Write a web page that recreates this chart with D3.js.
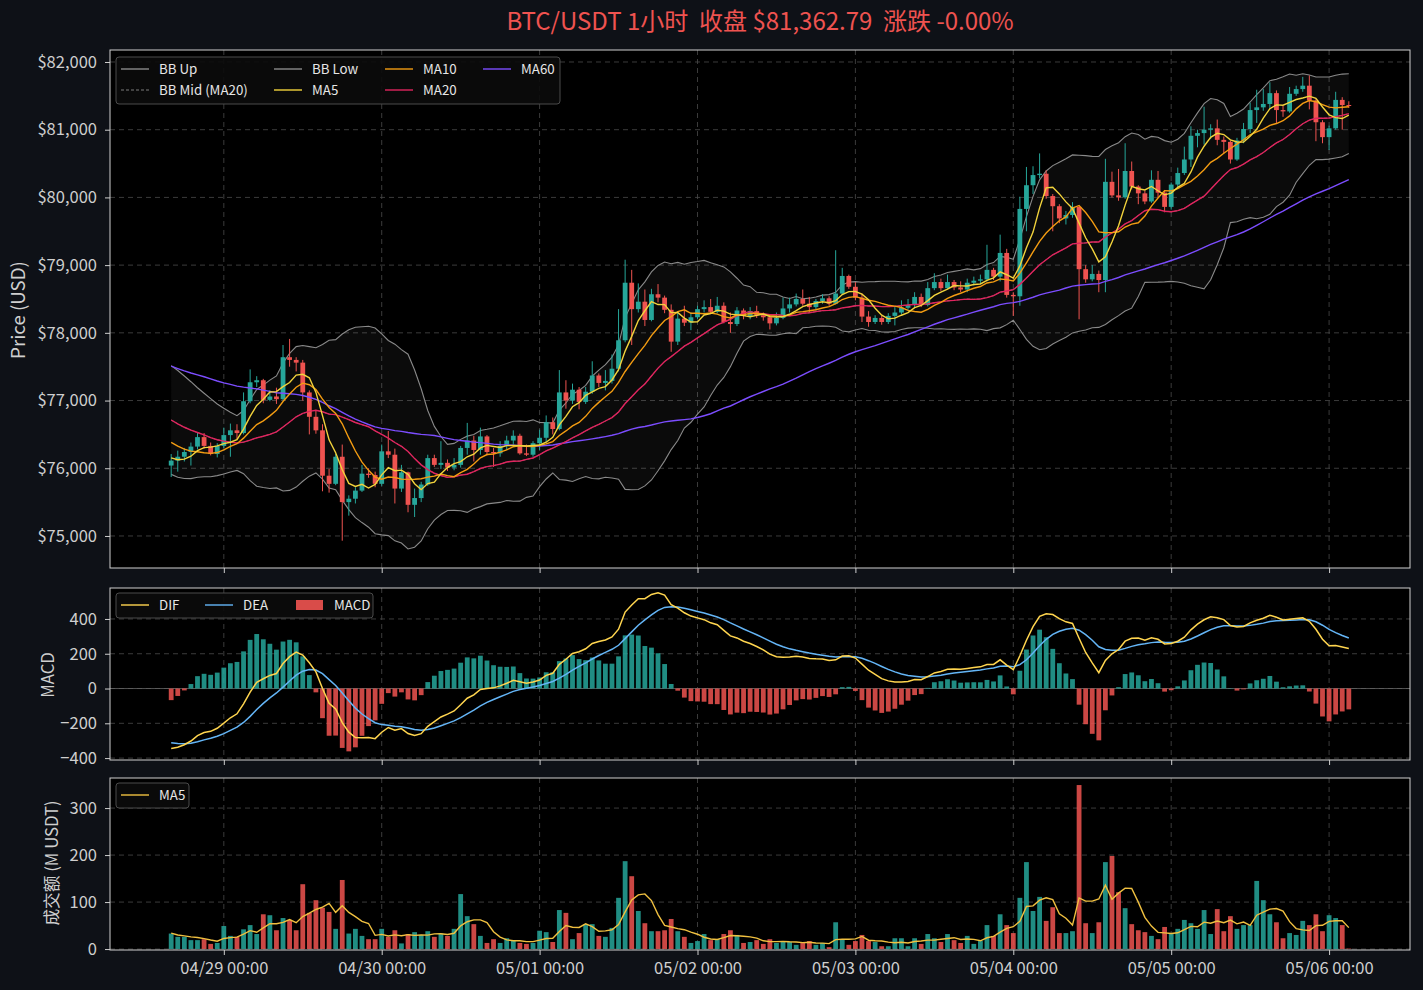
<!DOCTYPE html>
<html>
<head>
<meta charset="utf-8">
<script src="https://cdn.jsdelivr.net/npm/d3@7"></script>
<style>
  body { margin: 0; background: #0e1117; }
  text { font-family: "Noto Sans CJK SC", "Noto Sans", sans-serif; }
</style>
</head>
<body>
<svg id="chart" width="1423" height="990"></svg>
<script>
// ---- data (hourly candles, first one 04/28 16:00 UTC) ----
const startTime = Date.UTC(2025, 3, 28, 16);
const titleText = "BTC/USDT 1小时  收盘 $81,362.79  涨跌 -0.00%";

const openP = [
  76040,76113,76170,76240,76320,76460,76330,76210,76330,76490,
  76560,76520,76990,77270,77300,77010,77060,77020,77640,77600,
  77560,77120,76760,76560,75890,75770,76170,75500,75550,75670,
  75920,75900,75770,76250,76200,75700,75940,75460,75560,75760,
  76150,76050,76080,76010,76050,76300,76410,76270,76470,76240,
  76220,76330,76410,76480,76220,76200,76370,76450,76680,76580,
  77120,77000,77160,76980,77130,77370,77260,77290,77470,77890,
  78740,78350,78460,78190,78570,78520,78340,77870,78210,78150,
  78230,78350,78380,78310,78400,78160,78130,78330,78250,78320,
  78260,78230,78140,78220,78360,78420,78500,78430,78380,78470,
  78510,78430,78580,78840,78680,78520,78240,78160,78220,78160,
  78250,78300,78370,78410,78530,78410,78660,78750,78660,78750,
  78670,78640,78740,78770,78790,78930,78830,79180,78560,78540,
  79830,80180,80330,80350,80020,79870,79690,79740,79860,78940,
  78790,78870,78780,80230,80030,80000,80390,80160,80060,79940,
  80260,80070,79860,80190,80360,80560,80910,80950,81000,81020,
  80850,80820,80560,80840,81010,81290,81330,81380,81540,81290,
  81270,81530,81600,81650,81430,81110,80890,81020,81440,81364.5
];
const highP = [
  76210,76260,76300,76380,76530,76520,76380,76370,76600,76660,
  76650,77120,77460,77360,77320,77150,77190,77820,77910,77640,
  77600,77150,76850,76650,75990,76210,76350,75600,75720,76050,
  76000,75950,76350,76550,76290,76050,75950,75700,75800,76200,
  76200,76400,76130,76150,76330,76670,76480,76600,76490,76300,
  76400,76480,76560,76510,76350,76400,76570,76780,76750,77450,
  77300,77250,77200,77200,77580,77400,77450,77680,78350,79080,
  78930,78730,78640,78650,78720,78550,78420,78300,78400,78300,
  78400,78480,78500,78530,78450,78300,78380,78360,78380,78400,
  78300,78260,78300,78520,78520,78580,78640,78530,78500,78570,
  78540,79220,78960,78860,78750,78580,78320,78260,78250,78290,
  78380,78480,78500,78600,78580,78750,78880,78800,78860,78780,
  78760,78800,78830,78860,79300,78960,79450,79240,78600,80010,
  80450,80460,80650,80400,80050,79900,79800,79930,79870,79000,
  79000,78920,80570,80380,80420,80800,80530,80180,80100,80400,
  80390,80110,80220,80440,80750,81050,81000,81340,81080,81150,
  80900,80840,80880,81100,81400,81590,81600,81700,81580,81350,
  81630,81650,81780,81800,81450,81140,81060,81560,81480,81420
];
const lowP = [
  75870,75950,76100,76040,76280,76290,76190,76160,76300,76170,
  76430,76500,76960,77200,76960,76990,76950,77000,77500,77430,
  77000,76500,76510,75660,75640,75750,74930,75300,75480,75650,
  75860,75720,75740,76150,75480,75650,75350,75280,75500,75740,
  76020,75990,75960,75970,76010,76200,76100,76200,76190,76020,
  76170,76270,76350,76200,76180,76170,76270,76380,76500,76560,
  76880,76950,76870,76950,77100,77200,77150,77250,77430,77860,
  77820,78300,78100,78170,78450,78290,77720,77820,78100,78040,
  78200,78300,78290,78290,78140,78000,78100,78200,78200,78220,
  78180,78050,78110,78200,78300,78390,78400,78300,78330,78430,
  78400,78420,78560,78650,78480,78160,78090,78130,78120,78130,
  78110,78270,78340,78380,78380,78390,78630,78620,78640,78630,
  78600,78600,78700,78720,78760,78780,78760,78520,78250,78400,
  79500,80050,80280,79980,79500,79620,79600,79700,78200,78740,
  78760,78600,78600,80000,79950,79980,80120,79900,79900,79920,
  80000,79780,79820,80150,80330,80450,80740,80780,80860,80770,
  80650,80500,80540,80800,80950,81100,81280,81300,81100,81190,
  81250,81500,81560,81300,80830,80800,80700,81000,81000,81320
];
const closeP = [
  76113,76170,76240,76320,76460,76330,76210,76330,76490,76560,
  76520,76990,77270,77300,77010,77060,77020,77640,77600,77560,
  77120,76760,76560,75890,75770,76170,75500,75550,75670,75920,
  75900,75770,76250,76200,75700,75940,75460,75560,75760,76150,
  76050,76080,76010,76050,76300,76410,76270,76470,76240,76220,
  76330,76410,76480,76220,76200,76370,76450,76680,76580,77120,
  77000,77160,76980,77130,77370,77260,77290,77470,77890,78740,
  78350,78460,78190,78570,78520,78340,77870,78210,78150,78230,
  78350,78380,78310,78400,78160,78130,78330,78250,78320,78260,
  78230,78140,78220,78360,78420,78500,78430,78380,78470,78510,
  78430,78580,78840,78680,78520,78240,78160,78220,78160,78250,
  78300,78370,78410,78530,78410,78660,78750,78660,78750,78670,
  78640,78740,78770,78790,78930,78830,79180,78560,78540,79830,
  80180,80330,80350,80020,79870,79690,79740,79860,78940,78790,
  78870,78780,80230,80030,80000,80390,80160,80060,79940,80260,
  80070,79860,80190,80360,80560,80910,80950,81000,81020,80850,
  80820,80560,80840,81010,81290,81330,81380,81540,81290,81270,
  81530,81600,81650,81430,81110,80890,81020,81440,81364.5,81362.79
];
// turnover, million USDT
const volume = [
  33,26,26,19,19,21,11,13,49,28, 26,42,51,32,74,72,40,66,62,40,
  138,77,104,88,79,43,147,33,43,28, 21,21,43,26,40,12,32,36,30,38,
  26,33,28,43,117,70,53,28,13,21, 13,23,19,13,11,13,39,36,15,83,
  77,21,34,53,53,28,26,45,109,187, 155,81,55,38,38,40,64,38,26,13,
  17,32,19,21,32,40,30,13,15,19, 11,21,13,17,15,9,15,17,9,13,
  4,57,21,9,17,30,17,15,6,6, 23,23,6,23,11,32,23,15,32,19,
  13,28,11,17,51,28,74,51,34,109, 185,81,111,60,89,34,34,38,349,55,
  34,57,185,198,121,87,53,40,36,28, 21,47,34,43,62,55,43,83,32,85,
  38,70,43,51,51,145,104,74,57,23, 34,30,60,51,74,38,72,66,51,1
];
// closes/volumes before the visible window, only used to seed the indicators
const warmClose = [
  78300,78250,78180,78100,78050,78120,78200,78080,77990,78000,
  77950,78020,78100,78060,78150,78210,78120,78050,78130,78130,
  78300,78450,78600,78700,78650,78800,78720,78550,78400,78210,
  77900,77500,77100,76800,76600,76500,76450,76550,76600,76620,
  77300,77250,77180,77150,77060,77010,76950,76880,76860,76790,
  76720,76700,76600,76560,76480,76300,76200,76100,76050
];
const warmVolume = [45, 36, 29, 26];

const priceTicks = [75000, 76000, 77000, 78000, 79000, 80000, 81000, 82000];
const macdTicks = [-400, -200, 0, 200, 400];
const volTicks = [0, 100, 200, 300];

const UP = "#26a69a", DOWN = "#ef5350";
const C = { bb: "#8a8a8a", ma5: "#f2d33c", ma10: "#f39c12", ma20: "#e0245e", ma60: "#7c4dff",
            dif: "#ffd54f", dea: "#64b5f6", volma: "#f0c040" };

// ---- indicators ----
function sma(arr, n) {
  return arr.map((_, i) => i < n - 1 ? null : d3.mean(arr.slice(i - n + 1, i + 1)));
}
function rstd(arr, n) {
  return arr.map((_, i) => i < n - 1 ? null : d3.deviation(arr.slice(i - n + 1, i + 1)));
}
function ema(arr, n) {
  const a = 2 / (n + 1), out = [];
  arr.forEach((v, i) => out.push(i ? a * v + (1 - a) * out[i - 1] : v));
  return out;
}

const N = closeP.length;
const off = warmClose.length;
const allClose = warmClose.concat(closeP);
const cut = a => a.slice(off);
const ma5 = cut(sma(allClose, 5)), ma10 = cut(sma(allClose, 10));
const ma20 = cut(sma(allClose, 20)), ma60 = cut(sma(allClose, 60));
const sd20 = cut(rstd(allClose, 20));
const bbUp = ma20.map((m, i) => m + 2 * sd20[i]);
const bbLow = ma20.map((m, i) => m - 2 * sd20[i]);
const e12 = ema(allClose, 12), e26 = ema(allClose, 26);
const difAll = e12.map((v, i) => v - e26[i]);
const deaAll = ema(difAll, 9);
const dif = cut(difAll), dea = cut(deaAll);
const hist = dif.map((v, i) => 2 * (v - dea[i]));
const volMa5 = sma(warmVolume.concat(volume), 5).slice(warmVolume.length);

const times = closeP.map((_, i) => new Date(startTime + i * 3600e3));
const candles = times.map((t, i) => ({ t, i, o: openP[i], h: highP[i], l: lowP[i], c: closeP[i], v: volume[i] }));

// ---- layout ----
const svg = d3.select("#chart");
const X0 = 110, X1 = 1410;
const pad = 9.3 * 3600e3;
const x = d3.scaleUtc()
  .domain([new Date(startTime - pad), new Date(startTime + (N - 1) * 3600e3 + pad)])
  .range([X0, X1]);
const bw = 4.8;

const panels = [
  { id: "p", top: 50, bottom: 568, y: d3.scaleLinear().domain([74527, 82177]).range([568, 50]),
    ticks: priceTicks, fmt: d => "$" + d3.format(",")(d) },
  { id: "m", top: 588, bottom: 760, y: d3.scaleLinear().domain([-411, 578]).range([760, 588]),
    ticks: macdTicks, fmt: d => d3.format("d")(d).replace("-", "\u2212") },
  { id: "v", top: 778, bottom: 950, y: d3.scaleLinear().domain([-2, 364]).range([950, 778]),
    ticks: volTicks, fmt: d3.format("d") }
];
const dayTicks = d3.utcDay.range(x.domain()[0], x.domain()[1]);

// double spaces kept with no-break spaces
svg.append("text").attr("x", (X0 + X1) / 2).attr("y", 30).attr("text-anchor", "middle")
  .attr("fill", DOWN).attr("font-size", 24).text(titleText.replace(/ {2}/g, "\u00a0\u00a0"));

const defs = svg.append("defs");
panels.forEach(p => {
  defs.append("clipPath").attr("id", "clip-" + p.id)
    .append("rect").attr("x", X0).attr("y", p.top).attr("width", X1 - X0).attr("height", p.bottom - p.top);
  svg.append("rect").attr("x", X0).attr("y", p.top).attr("width", X1 - X0).attr("height", p.bottom - p.top)
    .attr("fill", "#000");
  const grid = svg.append("g").attr("stroke", "#4a4a4a").attr("stroke-width", 0.8).attr("stroke-dasharray", "5,4");
  grid.selectAll(".h").data(p.ticks).join("line")
    .attr("x1", X0).attr("x2", X1).attr("y1", d => p.y(d)).attr("y2", d => p.y(d));
  grid.selectAll(".vv").data(dayTicks).join("line")
    .attr("x1", d => x(d)).attr("x2", d => x(d)).attr("y1", p.top).attr("y2", p.bottom);
  p.g = svg.append("g").attr("clip-path", `url(#clip-${p.id})`);
});

function styleAxis(g) {
  g.select(".domain").remove();
  g.selectAll(".tick line").attr("stroke", "#cfcfcf");
  g.selectAll(".tick text").attr("fill", "#cfcfcf").attr("font-size", 16.5)
    .style("font-family", "'Noto Sans CJK SC', 'Noto Sans', sans-serif");
}

// ---- price panel ----
const P = panels[0], yP = P.y;
const idx = d3.range(N);
const lineP = arr => d3.line().defined(i => arr[i] != null).x(i => x(times[i])).y(i => yP(arr[i]));
P.g.append("path").datum(idx)
  .attr("d", d3.area().x(i => x(times[i])).y0(i => yP(bbLow[i])).y1(i => yP(bbUp[i])))
  .attr("fill", "#ffffff").attr("fill-opacity", 0.045);
P.g.append("path").datum(idx).attr("d", lineP(bbUp)).attr("fill", "none").attr("stroke", C.bb).attr("stroke-width", 1.1);
P.g.append("path").datum(idx).attr("d", lineP(bbLow)).attr("fill", "none").attr("stroke", C.bb).attr("stroke-width", 1.1);
P.g.append("path").datum(idx).attr("d", lineP(ma20)).attr("fill", "none").attr("stroke", C.bb)
  .attr("stroke-width", 0.8).attr("stroke-dasharray", "3,2");

const cg = P.g.append("g").selectAll("g").data(candles).join("g")
  .attr("fill", d => d.c >= d.o ? UP : DOWN).attr("stroke", d => d.c >= d.o ? UP : DOWN);
cg.append("line").attr("x1", d => x(d.t)).attr("x2", d => x(d.t))
  .attr("y1", d => yP(d.h)).attr("y2", d => yP(d.l)).attr("stroke-width", 1);
cg.append("rect").attr("x", d => x(d.t) - bw / 2).attr("width", bw)
  .attr("y", d => yP(Math.max(d.o, d.c)))
  .attr("height", d => Math.max(1, Math.abs(yP(d.o) - yP(d.c)))).attr("stroke", "none");

[[ma60, C.ma60], [ma20, C.ma20], [ma10, C.ma10], [ma5, C.ma5]].forEach(([arr, col]) => {
  P.g.append("path").datum(idx).attr("d", lineP(arr)).attr("fill", "none")
    .attr("stroke", col).attr("stroke-width", 1.4);
});

// ---- MACD panel ----
const M = panels[1], yM = M.y;
M.g.append("line").attr("x1", X0).attr("x2", X1).attr("y1", yM(0)).attr("y2", yM(0))
  .attr("stroke", "#666").attr("stroke-width", 0.8);
M.g.selectAll(".hb").data(idx).join("rect")
  .attr("x", i => x(times[i]) - bw / 2).attr("width", bw)
  .attr("y", i => yM(Math.max(0, hist[i]))).attr("height", i => Math.abs(yM(hist[i]) - yM(0)))
  .attr("fill", i => hist[i] >= 0 ? UP : DOWN).attr("fill-opacity", 0.85);
const lineM = arr => d3.line().x(i => x(times[i])).y(i => yM(arr[i]));
M.g.append("path").datum(idx).attr("d", lineM(dea)).attr("fill", "none").attr("stroke", C.dea).attr("stroke-width", 1.5);
M.g.append("path").datum(idx).attr("d", lineM(dif)).attr("fill", "none").attr("stroke", C.dif).attr("stroke-width", 1.5);

// ---- volume panel ----
const V = panels[2], yV = V.y;
V.g.selectAll(".vb").data(candles).join("rect")
  .attr("x", d => x(d.t) - bw / 2).attr("width", bw)
  .attr("y", d => yV(d.v)).attr("height", d => yV(0) - yV(d.v))
  .attr("fill", d => d.c >= d.o ? UP : DOWN).attr("fill-opacity", 0.85);
V.g.append("path").datum(idx)
  .attr("d", d3.line().x(i => x(times[i])).y(i => yV(volMa5[i])))
  .attr("fill", "none").attr("stroke", C.volma).attr("stroke-width", 1.4);

// ---- axes, spines ----
panels.forEach((p, k) => {
  svg.append("g").attr("transform", `translate(${X0},0)`)
    .call(d3.axisLeft(p.y).tickValues(p.ticks).tickFormat(p.fmt).tickSize(5).tickPadding(8))
    .call(styleAxis);
  const ax = svg.append("g").attr("transform", `translate(0,${p.bottom})`)
    .call(d3.axisBottom(x).tickValues(dayTicks).tickFormat(d3.utcFormat("%m/%d %H:%M")).tickSize(5).tickPadding(7))
    .call(styleAxis);
  if (k < 2) ax.selectAll(".tick text").remove();
  svg.append("rect").attr("x", X0).attr("y", p.top).attr("width", X1 - X0).attr("height", p.bottom - p.top)
    .attr("fill", "none").attr("stroke", "#d0d0d0").attr("stroke-width", 1);
});

const yTitle = (txt, xx, yy, size) => svg.append("text")
  .attr("transform", `translate(${xx},${yy}) rotate(-90)`).attr("text-anchor", "middle")
  .attr("fill", "#cfcfcf").attr("font-size", size).text(txt);
yTitle("Price (USD)", 25, 310, 18.7);
yTitle("MACD", 54, 675, 16.7);
yTitle("成交额 (M USDT)", 58, 863, 16.7);

// ---- legends ----
function legendBox(x0, y0, w, h) {
  svg.append("rect").attr("x", x0).attr("y", y0).attr("width", w).attr("height", h).attr("rx", 3)
    .attr("fill", "#0b0b0b").attr("fill-opacity", 0.9).attr("stroke", "#4a4a4a").attr("stroke-width", 1);
}
function legendItem(lx, ly, label, col, opts = {}) {
  if (opts.patch) {
    svg.append("rect").attr("x", lx).attr("y", ly - 5).attr("width", 27).attr("height", 10)
      .attr("fill", col).attr("fill-opacity", 0.9);
  } else {
    svg.append("line").attr("x1", lx).attr("x2", lx + 28).attr("y1", ly).attr("y2", ly)
      .attr("stroke", col).attr("stroke-width", opts.w || 1.4).attr("stroke-dasharray", opts.dash || null);
  }
  svg.append("text").attr("x", lx + 38).attr("y", ly + 4.5).attr("fill", "#e6e6e6")
    .attr("font-size", 13.3).text(label);
}
const priceLegend = [
  ["BB Up", C.bb, 121, 69, {}], ["BB Mid (MA20)", C.bb, 121, 90, { dash: "3,2", w: 0.9 }],
  ["BB Low", C.bb, 274, 69, {}], ["MA5", C.ma5, 274, 90, {}],
  ["MA10", C.ma10, 385, 69, {}], ["MA20", C.ma20, 385, 90, {}],
  ["MA60", C.ma60, 483, 69, {}]
];
legendBox(116, 57, 444, 47);
priceLegend.forEach(([l, c, lx, ly, o]) => legendItem(lx, ly, l, c, o));

legendBox(116, 593, 257, 25);
legendItem(121, 605, "DIF", C.dif);
legendItem(205, 605, "DEA", C.dea);
legendItem(296, 605, "MACD", DOWN, { patch: true });

legendBox(116, 783, 73, 25);
legendItem(121, 795, "MA5", C.volma);
</script>
</body>
</html>
